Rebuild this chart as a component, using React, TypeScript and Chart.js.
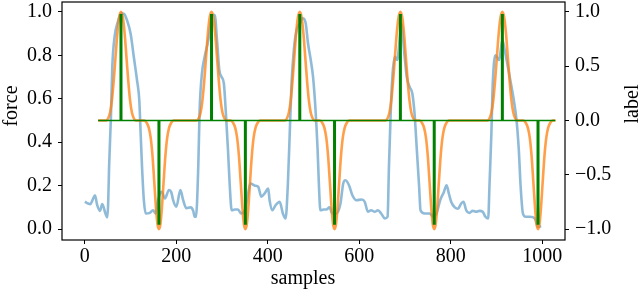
import React, { useEffect, useRef } from 'react';
import { Chart, registerables } from 'chart.js';
Chart.register(...registerables);

// force signal (samples, force)
const forceCurve: [number, number][] = [
  [0, 0.126], [7, 0.118], [12, 0.115], [17, 0.135], [22, 0.156], [27, 0.11], [33, 0.084], [38, 0.115],
  [45, 0.072], [49, 0.054], [51, 0.12], [53, 0.287], [57, 0.517], [60, 0.747], [65, 0.885], [71, 0.946],
  [80, 0.993], [86, 0.99], [92, 0.962], [100, 0.9], [107, 0.793], [114, 0.686], [119, 0.594], [122, 0.44],
  [125, 0.287], [129, 0.133], [133, 0.072], [142, 0.075], [149, 0.087], [155, 0.072], [160, 0.133],
  [168, 0.172], [175, 0.141], [184, 0.18], [189, 0.17], [193, 0.133], [200, 0.103], [209, 0.18],
  [215, 0.133], [222, 0.096], [231, 0.1], [237, 0.084], [240, 0.057], [243, 0.057], [248, 0.287],
  [251, 0.548], [256, 0.716], [262, 0.793], [270, 0.87], [279, 0.985], [284, 0.985], [289, 0.87],
  [294, 0.732], [299, 0.7], [304, 0.67], [308, 0.548], [313, 0.364], [317, 0.195], [321, 0.087],
  [328, 0.09], [335, 0.09], [342, 0.072], [350, 0.087], [357, 0.164], [362, 0.21], [372, 0.2],
  [379, 0.195], [386, 0.149], [393, 0.164], [401, 0.187], [404, 0.133], [410, 0.087], [417, 0.11],
  [426, 0.126], [433, 0.072], [439, 0.049], [444, 0.21], [448, 0.44], [452, 0.67], [457, 0.824],
  [463, 0.916], [470, 0.946], [477, 0.97], [483, 0.946], [488, 0.855], [494, 0.778], [499, 0.7],
  [504, 0.563], [509, 0.364], [512, 0.195], [515, 0.087], [522, 0.09], [528, 0.09], [535, 0.1],
  [541, 0.072], [550, 0.072], [559, 0.118], [565, 0.21], [570, 0.225], [578, 0.2], [585, 0.156],
  [594, 0.133], [605, 0.136], [612, 0.126], [619, 0.08], [626, 0.087], [634, 0.08], [641, 0.087],
  [648, 0.072], [656, 0.049], [662, 0.057], [665, 0.287], [669, 0.548], [673, 0.716], [678, 0.793],
  [683, 0.778], [689, 0.885], [692, 0.946], [699, 0.8], [704, 0.7], [710, 0.655], [716, 0.625],
  [721, 0.532], [726, 0.364], [731, 0.195], [734, 0.087], [743, 0.072], [754, 0.072], [762, 0.057],
  [769, 0.072], [777, 0.133], [785, 0.17], [791, 0.202], [796, 0.164], [801, 0.126], [809, 0.1],
  [816, 0.094], [823, 0.118], [828, 0.126], [834, 0.087], [841, 0.075], [848, 0.084], [856, 0.08],
  [863, 0.084], [870, 0.08], [876, 0.057], [882, 0.049], [885, 0.21], [889, 0.44], [892, 0.67],
  [898, 0.8], [906, 0.778], [913, 0.87], [918, 0.825], [925, 0.747], [933, 0.655], [938, 0.594],
  [944, 0.502], [949, 0.364], [953, 0.195], [958, 0.072], [964, 0.057], [973, 0.057], [984, 0.049],
  [991, 0.011], [998, 0.013],
];

// smoothed label (samples, label)
const labelCurve: [number, number][] = [
  [29, 0],
  [47, 0], [51, 0.02], [55, 0.07], [59, 0.18], [63, 0.36], [67, 0.58], [71, 0.8], [75, 0.95], [79, 1],
  [83, 0.95], [87, 0.8], [91, 0.58], [95, 0.36], [99, 0.18], [103, 0.07], [107, 0.02], [111, 0],
  [130, 0], [135, -0.02], [140, -0.07], [144, -0.16], [148, -0.33], [152, -0.58], [156, -0.83], [159, -0.96], [162, -1],
  [165, -0.96], [168, -0.83], [172, -0.58], [176, -0.33], [180, -0.16], [184, -0.07], [189, -0.02], [194, 0],
  [245, 0], [249, 0.02], [253, 0.07], [257, 0.18], [261, 0.36], [265, 0.58], [269, 0.8], [273, 0.95], [277, 1],
  [281, 0.95], [285, 0.8], [289, 0.58], [293, 0.36], [297, 0.18], [301, 0.07], [305, 0.02], [309, 0],
  [319, 0], [324, -0.02], [329, -0.07], [333, -0.16], [337, -0.33], [341, -0.58], [345, -0.83], [348, -0.96], [351, -1],
  [354, -0.96], [357, -0.83], [361, -0.58], [365, -0.33], [369, -0.16], [373, -0.07], [378, -0.02], [383, 0],
  [438, 0], [442, 0.02], [446, 0.07], [450, 0.18], [454, 0.36], [458, 0.58], [462, 0.8], [466, 0.95], [470, 1],
  [474, 0.95], [478, 0.8], [482, 0.58], [486, 0.36], [490, 0.18], [494, 0.07], [498, 0.02], [502, 0],
  [514, 0], [519, -0.02], [524, -0.07], [528, -0.16], [532, -0.33], [536, -0.58], [540, -0.83], [543, -0.96], [546, -1],
  [549, -0.96], [552, -0.83], [556, -0.58], [560, -0.33], [564, -0.16], [568, -0.07], [573, -0.02], [578, 0],
  [658, 0], [662, 0.02], [666, 0.07], [670, 0.18], [674, 0.36], [678, 0.58], [682, 0.8], [686, 0.95], [690, 1],
  [694, 0.95], [698, 0.8], [702, 0.58], [706, 0.36], [710, 0.18], [714, 0.07], [718, 0.02], [722, 0],
  [732, 0], [737, -0.02], [742, -0.07], [746, -0.16], [750, -0.33], [754, -0.58], [758, -0.83], [761, -0.96], [764, -1],
  [767, -0.96], [770, -0.83], [774, -0.58], [778, -0.33], [782, -0.16], [786, -0.07], [791, -0.02], [796, 0],
  [881, 0], [885, 0.02], [889, 0.07], [893, 0.18], [897, 0.36], [901, 0.58], [905, 0.8], [909, 0.95], [913, 1],
  [917, 0.95], [921, 0.8], [925, 0.58], [929, 0.36], [933, 0.18], [937, 0.07], [941, 0.02], [945, 0],
  [959, 0], [964, -0.02], [969, -0.07], [973, -0.16], [977, -0.33], [981, -0.58], [985, -0.83], [988, -0.96], [991, -1],
  [994, -0.96], [997, -0.83], [1001, -0.58], [1005, -0.33], [1009, -0.16], [1013, -0.07], [1018, -0.02], [1023, 0],
  [1029, 0],
];

// raw label events (stems)
const stemSamples = [79, 162, 277, 351, 470, 546, 690, 764, 913, 991];
const stemValues = [0.98, -0.96, 0.98, -0.96, 0.98, -0.96, 0.98, -0.96, 0.98, -0.96];
const stemBaseline = [29, 1029];

const xTicks = [0, 200, 400, 600, 800, 1000];
const forceTicks = [0, 0.2, 0.4, 0.6, 0.8, 1.0];
const labelTicks = [-1, -0.5, 0, 0.5, 1];

const FONT = '"Liberation Serif", "Times New Roman", serif';

const framePlugin = {
  id: 'frame',
  afterDraw(chart: any) {
    const { ctx, chartArea: a } = chart;
    ctx.save();
    ctx.strokeStyle = '#000';
    ctx.lineWidth = 1.2;
    ctx.strokeRect(a.left, a.top, a.right - a.left, a.bottom - a.top);
    ctx.fillStyle = '#000';
    ctx.font = `20px ${FONT}`;
    ctx.textAlign = 'center';
    ctx.textBaseline = 'alphabetic';
    ctx.fillText('samples', 303, 284);
    ctx.save();
    ctx.translate(17, 106);
    ctx.rotate(-Math.PI / 2);
    ctx.fillText('force', 0, 0);
    ctx.restore();
    ctx.save();
    ctx.translate(638, 104);
    ctx.rotate(-Math.PI / 2);
    ctx.fillText('label', 0, 0);
    ctx.restore();
    ctx.restore();
  },
};

export default function App() {
  const ref = useRef<HTMLCanvasElement | null>(null);
  useEffect(() => {
    if (!ref.current) return;
    const stemData: any[] = [];
    stemSamples.forEach((s, i) => {
      stemData.push({ x: s, y: 0 }, { x: s, y: stemValues[i] }, { x: s, y: null });
    });
    const tickGrid = {
      drawOnChartArea: false,
      drawTicks: true,
      tickLength: 4,
      tickWidth: 1,
      tickColor: '#000',
    };
    const zeroPad = (s: any) => {
      s.paddingTop = 0;
      s.paddingBottom = 0;
      s.paddingLeft = 0;
      s.paddingRight = 0;
    };
    const chart = new Chart(ref.current, {
      type: 'line',
      data: {
        datasets: [
          {
            data: stemData,
            yAxisID: 'y1',
            borderColor: '#008000',
            borderWidth: 3,
            pointRadius: 0,
            spanGaps: false,
            borderCapStyle: 'butt',
            order: 0,
          },
          {
            data: stemBaseline.map((s) => ({ x: s, y: 0 })),
            yAxisID: 'y1',
            borderColor: '#008000',
            borderWidth: 1.6,
            pointRadius: 0,
            order: 1,
          },
          {
            data: labelCurve.map(([x, y]) => ({ x, y })),
            yAxisID: 'y1',
            borderColor: 'rgba(255,127,14,0.75)',
            borderWidth: 2.6,
            pointRadius: 0,
            cubicInterpolationMode: 'monotone',
            borderJoinStyle: 'round',
            order: 2,
          },
          {
            data: forceCurve.map(([x, y]) => ({ x, y })),
            yAxisID: 'y',
            borderColor: 'rgba(31,119,180,0.5)',
            borderWidth: 2.6,
            pointRadius: 0,
            cubicInterpolationMode: 'monotone',
            borderJoinStyle: 'round',
            order: 3,
          },
        ],
      },
      options: {
        animation: false,
        responsive: true,
        maintainAspectRatio: false,
        layout: { padding: { top: 2, left: 0, right: 0, bottom: 0 } },
        plugins: { legend: { display: false }, tooltip: { enabled: false } },
        font: { family: FONT, size: 20 },
        scales: {
          x: {
            type: 'linear',
            min: -50,
            max: 1050,
            border: { display: false },
            grid: tickGrid,
            afterBuildTicks: (s: any) => { s.ticks = xTicks.map((v) => ({ value: v })); },
            afterFit: (s: any) => { s.height = 53; zeroPad(s); },
            ticks: {
              color: '#000',
              padding: 1,
              font: { family: FONT, size: 20 },
              maxRotation: 0,
              autoSkip: false,
              callback: (v: any) => String(v),
            },
          },
          y: {
            type: 'linear',
            position: 'left',
            min: -0.05,
            max: 1.045,
            border: { display: false },
            grid: tickGrid,
            afterBuildTicks: (s: any) => { s.ticks = forceTicks.map((v) => ({ value: v })); },
            afterFit: (s: any) => { s.width = 62; zeroPad(s); },
            ticks: {
              color: '#000',
              padding: 6,
              font: { family: FONT, size: 20 },
              autoSkip: false,
              callback: (v: any) => Number(v).toFixed(1),
            },
          },
          y1: {
            type: 'linear',
            position: 'right',
            min: -1.1,
            max: 1.09,
            border: { display: false },
            grid: tickGrid,
            afterBuildTicks: (s: any) => { s.ticks = labelTicks.map((v) => ({ value: v })); },
            afterFit: (s: any) => { s.width = 75; zeroPad(s); },
            ticks: {
              color: '#000',
              padding: 6,
              font: { family: FONT, size: 20 },
              autoSkip: false,
              callback: (v: any) => Number(v).toFixed(1).replace('-', '\u2212'),
            },
          },
        },
      } as any,
      plugins: [framePlugin],
    });
    return () => chart.destroy();
  }, []);
  return (
    <div style={{ position: 'fixed', left: 0, top: 0, width: 640, height: 293, background: '#fff' }}>
      <canvas ref={ref} />
    </div>
  );
}
